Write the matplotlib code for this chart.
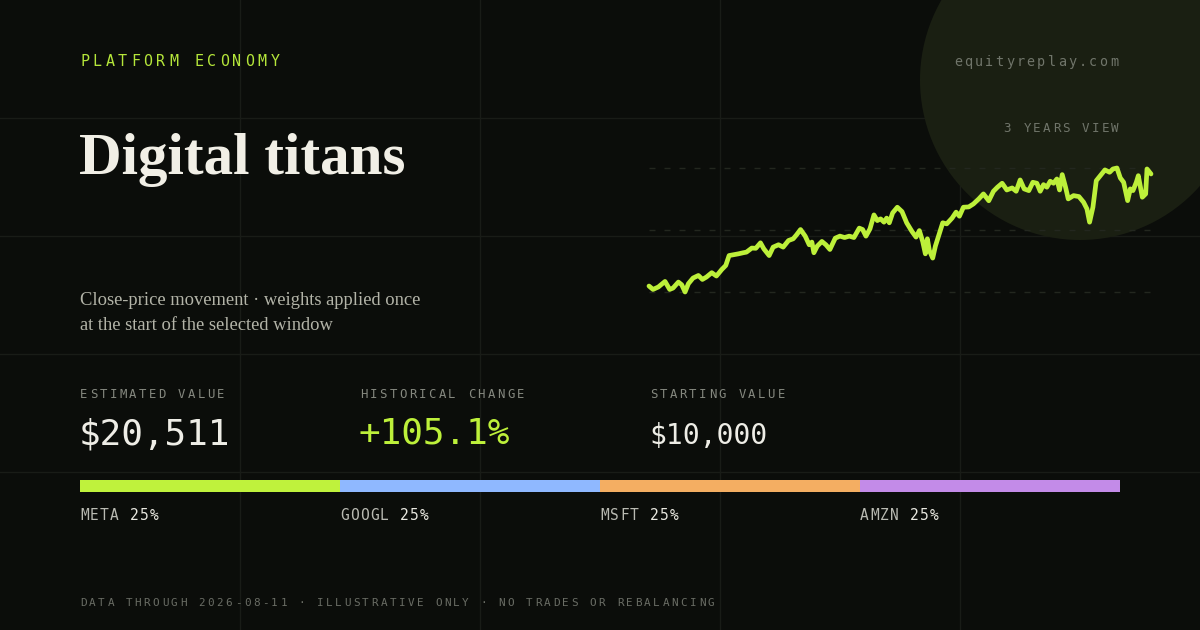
import matplotlib
matplotlib.use("Agg")
import matplotlib.pyplot as plt
from matplotlib.patches import Circle

# ---------------- data ----------------
tickers = ["META", "GOOGL", "MSFT", "AMZN"]
weights = [25, 25, 25, 25]
bar_colors = ["#bff23c", "#8fb8ff", "#f4ae62", "#c38be8"]

days = [0, 6, 14, 24, 31, 36, 44, 49, 54, 59, 66, 74, 80, 86, 94, 101, 109, 115, 120, 126,
        134, 141, 146, 154, 160, 167, 172, 180, 186, 194, 201, 209, 216, 221, 227, 234, 240, 244, 247, 252,
        259, 265, 271, 279, 286, 293, 300, 307, 315, 320, 325, 331, 337, 342, 347, 352, 356, 360, 365, 372,
        379, 386, 394, 400, 405, 410, 414, 417, 420, 425, 429, 434, 440, 446, 454, 460, 465, 471, 479, 486,
        494, 501, 509, 516, 522, 529, 536, 544, 550, 556, 562, 569, 575, 581, 586, 591, 596, 601, 606, 611,
        615, 619, 624, 628, 636, 644, 651, 656, 660, 665, 670, 676, 683, 690, 695, 701, 706, 711, 717, 721,
        725, 730, 733, 739, 744, 746, 748, 752]
values = [10000, 9680, 9910, 10430, 9680, 9810, 10370, 10120, 9440, 10220, 10750, 10990, 10620, 10840, 11250, 10940, 11550, 11930, 12860, 12930,
          13020, 13120, 13180, 13560, 13540, 14050, 13490, 12860, 13650, 13870, 13650, 14270, 14430, 14800, 15300, 14680, 13870, 14120, 13120, 13740,
          14180, 13870, 13430, 14490, 14680, 14550, 14680, 14550, 15430, 15300, 14680, 15360, 16670, 16140, 16300, 15990, 16370, 15930, 16860, 17390,
          16980, 15930, 15110, 14590, 15200, 14180, 13020, 14430, 13330, 12620, 13740, 14740, 15930, 15830, 16370, 16930, 16550, 17390, 17420, 17700,
          18170, 18640, 18000, 18890, 19270, 19640, 19010, 19200, 18890, 19950, 19110, 18950, 19730, 19640, 18890, 19510, 19270, 19830, 19640, 20040,
          19010, 20450, 19270, 18170, 18480, 18390, 17860, 17240, 15990, 17390, 19880, 20350, 20890, 20670, 20980, 21070, 20140, 19730, 18010, 19110,
          18950, 19730, 20350, 18330, 18640, 20980, 20820, 20511]

kicker = "PLATFORM ECONOMY"
domain = "equityreplay.com"
window_label = "3 YEARS VIEW"
title = "Digital titans"
subtitle_lines = ["Close-price movement · weights applied once",
                  "at the start of the selected window"]
stat_labels = ["ESTIMATED VALUE", "HISTORICAL CHANGE", "STARTING VALUE"]
stat_values = ["$20,511", "+105.1%", "$10,000"]
footer = "DATA THROUGH 2026-08-11 · ILLUSTRATIVE ONLY · NO TRADES OR REBALANCING"

# ---------------- style ----------------
BG = "#0b0d0a"
GRID = "#191c17"
LIME = "#bdf03a"
MONO = "DejaVu Sans Mono"
SERIF = "Liberation Serif"
PT = 0.72  # px -> pt at dpi 100

W, H = 1200, 630
fig = plt.figure(figsize=(12, 6.3), dpi=100, facecolor=BG)
bg = fig.add_axes([0, 0, 1, 1])
bg.set_xlim(0, W)
bg.set_ylim(H, 0)
bg.axis("off")
bg.set_facecolor(BG)

# background grid
for gx in [240, 480, 720, 960]:
    bg.plot([gx, gx], [0, H], color=GRID, lw=1.0, zorder=0)
for gy in [118, 236, 354, 472]:
    bg.plot([0, W], [gy, gy], color=GRID, lw=1.0, zorder=0)

# glow circle
bg.add_patch(Circle((1080, 80), 160, facecolor="#1a1f12", edgecolor="none", zorder=1))


def spaced(x, y, s, size_px, adv, color, ha="left", family=MONO):
    cw = 0.602 * size_px
    total = (len(s) - 1) * adv + cw
    x0 = x - total if ha == "right" else x
    for i, ch in enumerate(s):
        if ch == " ":
            continue
        bg.text(x0 + i * adv + cw / 2, y, ch, ha="center", va="baseline",
                fontsize=size_px * PT, color=color, family=family, zorder=5)
    return x0 + len(s) * adv


# header texts
spaced(80, 66, kicker, 15, 12.7, "#b5e63a")
spaced(1118, 66, domain, 13.5, 10.4, "#70756a", ha="right")
spaced(1119, 132, window_label, 12.5, 9.8, "#70756a", ha="right")

bg.text(79, 174, title, ha="left", va="baseline", fontsize=59 * PT,
        color="#f1efe6", family=SERIF, fontweight="bold", zorder=5)
for i, line in enumerate(subtitle_lines):
    bg.text(80, 305 + i * 25.5, line, ha="left", va="baseline", fontsize=18.5 * PT,
            color="#b3b4a8", family=SERIF, zorder=5)

# stats
stat_x = [80, 360, 650]
stat_sizes = [36, 36, 28]
stat_colors = ["#eeede6", LIME, "#eeede6"]
for sx, lab, val, sz, col in zip(stat_x, stat_labels, stat_values, stat_sizes, stat_colors):
    spaced(sx, 398, lab, 12.3, 9.8, "#85887f")
    bg.text(sx - 1, 444, val, ha="left", va="baseline", fontsize=sz * PT,
            color=col, family=MONO, zorder=5)

# allocation bar
bar_ax = fig.add_axes([80 / W, 1 - 492 / H, 1040 / W, 12 / H])
lefts = []
acc = 0
for w in weights:
    lefts.append(acc)
    acc += w
bar_ax.barh([0] * len(weights), weights, left=lefts, height=1.0, color=bar_colors, edgecolor="none")
bar_ax.set_xlim(0, sum(weights))
bar_ax.set_ylim(-0.5, 0.5)
bar_ax.axis("off")

for t, w, l in zip(tickers, weights, lefts):
    lx = 80 + l / sum(weights) * 1040
    end = spaced(lx, 520.5, t + " ", 14.5, 10.0, "#b9bab2")
    spaced(end, 520.5, f"{w}%", 14.5, 10.0, "#e9e8e0")

# footer
spaced(80, 606, footer, 11, 9.1, "#6a6d65")

# line chart
ax = fig.add_axes([649 / W, 1 - 292 / H, 502 / W, 124 / H])
ax.set_facecolor("none")
vmin, vmax = min(values), max(values)
ax.set_xlim(days[0], days[-1])
ax.set_ylim(vmin, vmax)
for frac in [0.0, 0.5, 1.0]:
    ax.axhline(vmin + frac * (vmax - vmin), color="#23271f", lw=1.0,
               dashes=(6 * PT, 9 * PT), zorder=1, clip_on=False)
ax.plot(days, values, color=LIME, lw=3.4, solid_joinstyle="round",
        solid_capstyle="round", zorder=3, clip_on=False)
ax.axis("off")

fig.savefig("out.png", dpi=100, facecolor=BG)
